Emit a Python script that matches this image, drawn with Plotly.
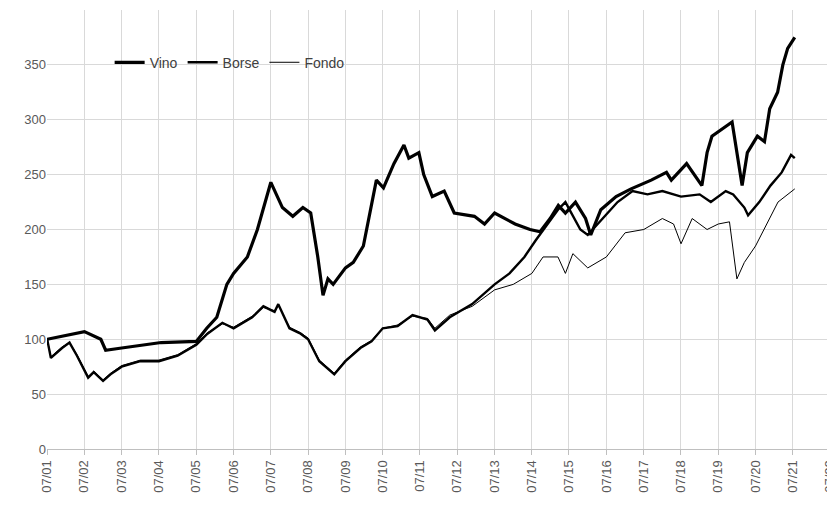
import plotly.graph_objects as go
from datetime import datetime, timedelta

def to_date(y):
    yr = int(y); return datetime(yr,1,1) + timedelta(days=(y-yr)*365.25)

vino_t = [2001.5,2002.5,2002.94,2003.07,2003.5,2004.56,2005.5,2005.78,2006.05,2006.32,2006.5,2006.87,2007.14,2007.5,2007.81,2008.09,2008.36,2008.57,2008.76,2008.9,2009.03,2009.17,2009.5,2009.71,2009.98,2010.33,2010.52,2010.8,2011.07,2011.2,2011.47,2011.6,2011.83,2012.15,2012.42,2012.96,2013.23,2013.5,2014.05,2014.45,2014.72,2014.99,2015.21,2015.4,2015.67,2015.94,2016.08,2016.35,2016.76,2017.16,2017.7,2018.11,2018.24,2018.65,2019.06,2019.2,2019.33,2019.87,2020.14,2020.28,2020.55,2020.74,2020.88,2021.09,2021.23,2021.36,2021.55]
vino_v = [100,107,100,90,92,97,98,110,120,150,160,175,200,243,220,212,220,215,175,140,155,150,165,170,185,245,238,260,277,265,270,250,230,235,215,212,205,215,205,200,198,210,222,215,225,210,195,218,230,237,245,252,245,260,240,270,285,298,240,270,285,280,310,325,350,365,375]

borse_t = [2001.5,2001.6,2001.9,2002.1,2002.3,2002.5,2002.6,2002.75,2003.0,2003.2,2003.5,2004.0,2004.5,2005.0,2005.5,2005.8,2006.2,2006.5,2007.0,2007.3,2007.6,2007.7,2008.0,2008.3,2008.5,2008.8,2009.2,2009.5,2009.9,2010.2,2010.5,2010.9,2011.3,2011.7,2011.9,2012.3,2012.9,2013.5,2013.9,2014.3,2014.6,2015.2,2015.4,2015.8,2016.0,2016.4,2016.8,2017.2,2017.6,2018.0,2018.5,2019.0,2019.3,2019.7,2019.9,2020.2,2020.3,2020.6,2020.9,2021.2,2021.45,2021.55]
borse_v = [100,83,92,97,85,72,65,70,62,68,75,80,80,85,95,105,115,110,120,130,125,132,110,105,100,80,68,80,92,98,110,112,122,118,108,120,132,150,160,175,190,218,225,200,195,210,225,235,232,235,230,232,225,235,232,220,213,225,240,252,268,265]

fondo_t = [2001.5,2001.6,2001.9,2002.1,2002.3,2002.5,2002.6,2002.75,2003.0,2003.2,2003.5,2004.0,2004.5,2005.0,2005.5,2005.8,2006.2,2006.5,2007.0,2007.3,2007.6,2007.7,2008.0,2008.3,2008.5,2008.8,2009.2,2009.5,2009.9,2010.2,2010.5,2010.9,2011.3,2011.7,2011.9,2012.3,2012.9,2013.5,2014.0,2014.5,2014.8,2015.2,2015.4,2015.6,2016.0,2016.5,2017.0,2017.5,2018.0,2018.3,2018.5,2018.8,2019.2,2019.5,2019.8,2020.0,2020.2,2020.5,2020.8,2021.1,2021.55]
fondo_v = [100,84,93,97,86,73,66,71,63,69,76,81,81,86,96,106,114,111,121,129,126,131,111,106,101,81,69,81,93,99,110,113,121,119,110,122,130,145,150,160,175,175,160,178,165,175,197,200,210,205,187,210,200,205,207,155,170,185,205,225,237]

fig = go.Figure()
fig.add_trace(go.Scatter(x=[to_date(t) for t in vino_t], y=vino_v, name="Vino", mode="lines", line=dict(color="black", width=3.2)))
fig.add_trace(go.Scatter(x=[to_date(t) for t in borse_t], y=borse_v, name="Borse", mode="lines", line=dict(color="black", width=2.4)))
fig.add_trace(go.Scatter(x=[to_date(t) for t in fondo_t], y=fondo_v, name="Fondo", mode="lines", line=dict(color="black", width=1)))

fig.update_layout(width=835, height=522, plot_bgcolor="white", paper_bgcolor="white",
    margin=dict(l=39, r=13, t=2, b=81),
    font=dict(family="Liberation Sans", size=13, color="#595959"),
    legend=dict(orientation="h", x=0.08, y=0.88, xanchor="left", yanchor="middle", bgcolor="rgba(0,0,0,0)", font=dict(size=14, color="#404040")),
    xaxis=dict(range=[datetime(2001,7,1), datetime(2022,7,1)], tickvals=[datetime(y,7,1) for y in range(2001,2023)],
               tickformat="%m/%y", tickangle=-90, showgrid=True, gridcolor="#d9d9d9", showline=True, linecolor="#bfbfbf", ticks="outside", tickcolor="#bfbfbf", ticklen=5),
    yaxis=dict(range=[0,400], dtick=50, showgrid=True, gridcolor="#d9d9d9", zeroline=False, showline=False))
fig.write_html("out.html")
